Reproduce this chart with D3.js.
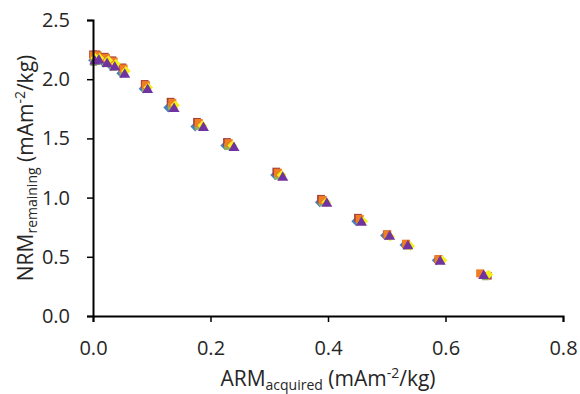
<!DOCTYPE html>
<html>
<head>
<meta charset="utf-8">
<script src="https://cdn.jsdelivr.net/npm/d3@7"></script>
<style>
  body { margin: 0; background: #fff; }
  svg text { font-family: "Open Sans", sans-serif; fill: #262626; }
</style>
</head>
<body>
<svg class="chart"></svg>
<script>
// ARM acquired (x) vs NRM remaining (y), one array pair per sample
var blueX   = [0.000, 0.005, 0.018, 0.031, 0.048, 0.086, 0.128, 0.174, 0.225, 0.310, 0.386, 0.448, 0.497, 0.530, 0.585, 0.662];
var blueY   = [2.16, 2.17, 2.14, 2.11, 2.05, 1.92, 1.76, 1.60, 1.44, 1.19, 0.96, 0.80, 0.68, 0.60, 0.47, 0.35];
var redX    = [0.000, 0.006, 0.020, 0.033, 0.050, 0.088, 0.132, 0.177, 0.228, 0.312, 0.388, 0.451, 0.500, 0.533, 0.588, 0.672];
var redY    = [2.21, 2.21, 2.19, 2.16, 2.10, 1.96, 1.81, 1.64, 1.47, 1.22, 0.99, 0.83, 0.69, 0.61, 0.48, 0.34];
var greenX  = [0.001, 0.007, 0.021, 0.034, 0.051, 0.089, 0.133, 0.179, 0.229, 0.314, 0.390, 0.454, 0.502, 0.534, 0.590, 0.668];
var greenY  = [2.14, 2.15, 2.13, 2.10, 2.05, 1.92, 1.77, 1.60, 1.43, 1.18, 0.96, 0.80, 0.67, 0.59, 0.47, 0.33];
var orangeX = [0.001, 0.008, 0.022, 0.035, 0.052, 0.090, 0.135, 0.180, 0.231, 0.315, 0.391, 0.454, 0.501, 0.533, 0.588, 0.659];
var orangeY = [2.20, 2.20, 2.18, 2.15, 2.09, 1.95, 1.80, 1.63, 1.46, 1.21, 0.98, 0.82, 0.69, 0.61, 0.48, 0.36];
var yellowX = [0.004, 0.011, 0.026, 0.039, 0.056, 0.094, 0.140, 0.186, 0.237, 0.321, 0.397, 0.460, 0.506, 0.540, 0.595, 0.673];
var yellowY = [2.18, 2.18, 2.16, 2.13, 2.07, 1.93, 1.78, 1.61, 1.44, 1.19, 0.96, 0.80, 0.67, 0.59, 0.47, 0.35];
var purpleX = [0.003, 0.010, 0.024, 0.037, 0.054, 0.093, 0.138, 0.188, 0.240, 0.323, 0.398, 0.457, 0.505, 0.536, 0.591, 0.665];
var purpleY = [2.15, 2.16, 2.13, 2.10, 2.04, 1.91, 1.75, 1.59, 1.42, 1.17, 0.95, 0.79, 0.67, 0.59, 0.46, 0.34];

var xTicks = [0, 0.2, 0.4, 0.6, 0.8];
var yTicks = [0, 0.5, 1.0, 1.5, 2.0, 2.5];

var series = [
  { xs: blueX,   ys: blueY,   color: "#4a7ebb", shape: d3.symbolDiamond2, size: 60 },
  { xs: redX,    ys: redY,    color: "#a5403d", shape: d3.symbolSquare,   size: 60 },
  { xs: greenX,  ys: greenY,  color: "#8fb15a", shape: d3.symbolSquare,   size: 45 },
  { xs: orangeX, ys: orangeY, color: "#ef7d22", shape: d3.symbolSquare,   size: 64 },
  { xs: yellowX, ys: yellowY, color: "#f3f01a", shape: d3.symbolDiamond2, size: 60 },
  { xs: purpleX, ys: purpleY, color: "#7033a0", shape: d3.symbolTriangle, size: 52 }
];

var width = 580, height = 394;
var margin = {top: 20, right: 17, bottom: 78, left: 93};
var chartWidth = width - margin.left - margin.right;
var chartHeight = height - margin.top - margin.bottom;

var svg = d3.select(".chart").attr("width", width).attr("height", height);
var chart = svg.append("g").attr("transform", "translate(" + margin.left + "," + margin.top + ")");

var x = d3.scaleLinear().domain([0, 0.8]).range([0, chartWidth]);
var y = d3.scaleLinear().domain([0, 2.5]).range([chartHeight, 0]);

// points
series.forEach(function(s) {
  var sym = d3.symbol().type(s.shape).size(s.size);
  chart.append("g").selectAll("path")
    .data(s.xs.map(function(v, i) { return [v, s.ys[i]]; }))
    .enter().append("path")
    .attr("d", sym)
    .attr("fill", s.color)
    .attr("transform", function(d) { return "translate(" + x(d[0]) + "," + y(d[1]) + ")"; });
});

// axes
var xAxis = chart.append("g")
  .attr("transform", "translate(0," + chartHeight + ")")
  .call(d3.axisBottom(x).tickValues(xTicks).tickFormat(d3.format(".1f")).tickSizeOuter(0).tickSize(6).tickPadding(19));
var yAxis = chart.append("g")
  .call(d3.axisLeft(y).tickValues(yTicks).tickFormat(d3.format(".1f")).tickSizeOuter(0).tickSize(6).tickPadding(17));

[xAxis, yAxis].forEach(function(a) {
  a.select(".domain").attr("stroke", "#000").attr("stroke-width", 2);
  a.selectAll(".tick line").attr("stroke", "#000").attr("stroke-width", 1.5);
  a.selectAll(".tick text").style("font-size", "20px").style("font-family", "'Open Sans', sans-serif").attr("fill", "#262626");
});

// x axis title
var xt = svg.append("text")
  .attr("x", margin.left + chartWidth / 2)
  .attr("y", 386)
  .style("text-anchor", "middle")
  .style("font-size", "21px");
xt.append("tspan").text("ARM");
xt.append("tspan").attr("dy", 4).style("font-size", "14px").text("acquired");
xt.append("tspan").attr("dy", -4).text(" (mAm");
xt.append("tspan").attr("dy", -8).style("font-size", "14px").text("-2");
xt.append("tspan").attr("dy", 8).text("/kg)");

// y axis title
var yt = svg.append("text")
  .attr("transform", "translate(33," + (margin.top + chartHeight / 2) + ") rotate(-90)")
  .style("text-anchor", "middle")
  .style("font-size", "21px");
yt.append("tspan").text("NRM");
yt.append("tspan").attr("dy", 4).style("font-size", "14px").text("remaining");
yt.append("tspan").attr("dy", -4).text(" (mAm");
yt.append("tspan").attr("dy", -8).style("font-size", "14px").text("-2");
yt.append("tspan").attr("dy", 8).text("/kg)");
</script>
</body>
</html>
